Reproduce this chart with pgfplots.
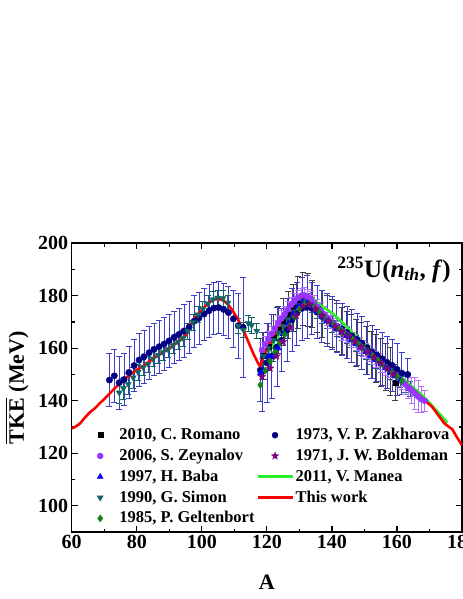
\documentclass[border=0pt]{standalone}
\usepackage{fontspec}
\setmainfont{Liberation Serif}
\usepackage{pgfplots}
\usepackage{pgfplotstable}
\pgfplotsset{compat=1.18}
\usetikzlibrary{plotmarks}

\definecolor{navyc}{RGB}{0,0,128}
\definecolor{errb}{RGB}{60,60,205}
\definecolor{tealc}{RGB}{20,100,100}
\definecolor{violetc}{RGB}{153,51,255}
\definecolor{babac}{RGB}{0,0,255}
\definecolor{geltc}{RGB}{20,130,20}
\definecolor{boldc}{RGB}{128,0,128}
\definecolor{maneac}{RGB}{40,240,40}
\definecolor{redc}{RGB}{255,0,0}

% filled five-pointed star
\pgfdeclareplotmark{fstar}{%
  \pgfpathmoveto{\pgfpointpolar{90}{1.3\pgfplotmarksize}}%
  \pgfpathlineto{\pgfpointpolar{126}{0.55\pgfplotmarksize}}%
  \pgfpathlineto{\pgfpointpolar{162}{1.3\pgfplotmarksize}}%
  \pgfpathlineto{\pgfpointpolar{198}{0.55\pgfplotmarksize}}%
  \pgfpathlineto{\pgfpointpolar{234}{1.3\pgfplotmarksize}}%
  \pgfpathlineto{\pgfpointpolar{270}{0.55\pgfplotmarksize}}%
  \pgfpathlineto{\pgfpointpolar{306}{1.3\pgfplotmarksize}}%
  \pgfpathlineto{\pgfpointpolar{342}{0.55\pgfplotmarksize}}%
  \pgfpathlineto{\pgfpointpolar{18}{1.3\pgfplotmarksize}}%
  \pgfpathlineto{\pgfpointpolar{54}{0.55\pgfplotmarksize}}%
  \pgfpathclose\pgfusepathqfillstroke}

\pgfplotsset{
  mleg/.style={legend image code/.code={%
      \pgfpathrectangle{\pgfpoint{0bp}{-3bp}}{\pgfpoint{35bp}{6bp}}%
      \pgfusepath{use as bounding box}%
      \draw[##1] plot coordinates {(17.5bp,0bp)};}},
  lleg/.style={legend image code/.code={%
      \draw[##1] (0bp,0bp) -- (35bp,0bp);}},
  ebar/.style={error bars/.cd, y dir=both, y explicit,
      error bar style={#1, line width=0.7bp},
      error mark options={#1, rotate=90, mark size=3bp, line width=0.7bp}},
}

% 1973, V. P. Zakharova
\pgfplotstableread{
A T E
71.6 147.9 10
73.1 149.5 10
74.6 146.9 10
76.1 148.1 10
77.6 150.8 10
79.2 153.4 10
80.7 155.5 10
82.2 156.8 10
83.8 158.3 10
85.3 159.6 10
86.9 160.6 10
88.4 161.6 10
89.9 162.8 10
91.5 164.2 10
93.0 165.3 10
94.5 166.6 10
96.1 168.0 10
97.6 170.3 10
99.1 171.5 10
100.7 173.0 10
102.2 174.3 10
103.7 175.3 10
105.2 175.5 10
106.7 174.8 10
108.2 173.6 10
109.7 171.2 11
111.2 168.6 12.5
112.7 168.0 19
118.0 151.7 12
118.5 151.0 15
120.0 154.5 15
121.5 157.0 16
123.1 160.5 15
124.6 163.1 12
126.2 167.0 12
127.7 170.8 12
129.2 173.3 12
130.8 175.2 12
132.3 175.6 12
133.8 175.2 10
135.4 173.8 10
136.9 172.1 10
138.5 170.8 10
140.0 169.6 10
141.5 168.4 10
143.1 167.2 10
144.6 166.0 10
146.1 164.7 10
147.7 163.4 10
149.2 162.0 10
150.8 160.2 10
152.3 158.6 10
153.8 157.4 10
155.4 156.0 10
156.9 154.6 10
158.5 153.5 10
160.0 152.0 10
161.5 150.5 8
163.3 150.0 6
}\zak

% 2010, C. Romano
\pgfplotstableread{
A T E
119.0 157.0 9
120.5 160.5 9
122.0 164.0 9
123.5 167.0 9
125.0 170.0 9
126.5 172.8 9
128.0 175.5 9
129.5 177.5 10
131.0 178.8 10
132.5 178.5 10
134.0 177.0 9
135.5 175.0 9
137.0 173.0 9
138.5 171.0 9
140.0 169.5 9
141.5 168.0 9
143.0 166.5 9
144.5 165.2 9
146.0 163.8 9
147.5 162.2 9
149.0 160.8 9
150.5 159.2 9
152.0 157.6 9
153.5 156.2 9
155.0 154.6 9
156.5 153.0 9
158.0 151.2 9
159.5 147.0 7
}\rom

% 1990, G. Simon
\pgfplotstableread{
A T E
74.6 143.1 4
75.9 144.7 4
77.4 146.3 4
78.9 148.8 4
80.4 150.9 3
82.0 152.7 3
83.5 154.0 3
85.0 156.0 3
86.6 157.4 3
88.1 158.5 3
89.6 159.6 3
91.1 161.2 3
92.7 162.5 3
94.2 163.9 3
95.7 166.5 3
97.3 170.0 3
98.8 172.8 3
100.3 175.0 3
101.9 177.0 3
103.4 178.6 3
104.9 179.2 3
106.5 179.0 3
108.0 177.3 3
111.2 168.5 3
112.8 167.0 3
114.3 169.5 3
115.3 168.8 3
116.9 166.6 3
119.0 157.0 3
120.5 160.0 3
122.0 163.0 3
123.5 166.0 3
125.0 168.5 3
126.5 171.0 3
128.0 174.0 3
129.5 176.5 3
131.0 178.0 3
132.5 178.0 3
134.0 176.5 3
135.5 174.5 3
137.0 172.5 3
138.5 170.5 3
140.0 169.0 3
141.5 167.5 3
143.0 166.0 3
144.5 164.8 3
146.0 163.2 3
147.5 161.8 3
149.0 160.2 3
150.5 158.6 3
152.0 157.0 3
153.5 155.5 3
155.0 154.0 3
156.5 152.5 3
158.0 151.0 3
159.5 149.5 3
161.0 148.0 3
162.5 146.3 3
164.0 144.5 3
}\sim

% 2006, S. Zeynalov
\pgfplotstableread{
A T E
118.5 159.3 3
119.5 161.5 3
120.5 163.5 3
121.5 165.5 3
122.5 167.5 3
123.5 169.5 3
124.5 171.3 3
125.5 173.0 3
126.5 174.8 3
127.5 176.5 3
128.5 178.0 3
129.5 179.2 3
130.5 180.0 3
131.5 180.2 3
132.5 179.6 3
133.5 178.6 3
134.5 177.2 3
135.5 175.8 3
136.5 174.4 3
137.5 173.0 3
138.5 171.8 3
139.5 170.6 3
140.5 169.4 3
141.5 168.3 3
142.5 167.2 3
143.5 166.2 3
144.5 165.2 3
145.5 164.2 3
146.5 163.2 3
147.5 162.2 3
148.5 161.2 3
149.5 160.1 3
150.5 159.0 3
151.5 158.0 3
152.5 157.0 3
153.5 155.9 3
154.5 154.9 3
155.5 153.9 3
156.5 152.8 3
157.5 151.8 3
158.5 150.7 3
159.5 149.7 3
160.5 148.6 3
161.5 147.4 3
162.5 146.3 4
163.5 145.1 4
164.5 144.0 5
165.5 142.8 6
166.5 141.6 6
167.5 140.6 5
168.5 140.0 4
}\zey

% 1997, H. Baba
\pgfplotstableread{
A T
118.0 150.5
119.0 151.5
120.5 157.0
122.0 157.0
123.5 160.0
125.0 165.5
126.5 169.5
128.0 173.0
129.5 175.8
131.0 177.3
132.5 177.3
134.0 176.0
135.5 174.0
137.0 172.0
138.5 170.3
140.0 168.8
141.5 167.5
143.0 166.2
144.5 164.8
146.0 163.3
147.5 161.8
149.0 160.3
150.5 158.7
152.0 157.2
153.5 155.6
155.0 154.1
156.5 152.5
158.0 151.0
159.5 149.4
161.0 147.8
}\bab

% 1985, P. Geltenbort
\pgfplotstableread{
A T
118.0 146.0
119.5 151.5
121.0 155.0
122.5 158.5
124.0 162.0
125.5 165.2
127.0 168.5
128.5 172.0
130.0 175.0
131.5 176.8
133.0 177.0
134.5 175.8
136.0 174.0
137.5 172.2
139.0 170.5
140.5 169.0
142.0 167.6
143.5 166.2
145.0 164.8
146.5 163.3
148.0 161.8
149.5 160.3
151.0 158.8
152.5 157.2
154.0 155.6
155.5 154.0
157.0 152.4
158.5 150.8
160.0 149.2
161.5 147.5
}\gel

% 1971, J. W. Boldeman
\pgfplotstableread{
A T
118.5 149.2
121.0 152.4
123.0 157.0
125.0 162.5
127.0 168.0
129.0 172.5
131.0 176.0
133.0 176.8
135.0 175.0
137.0 172.5
139.0 170.3
141.0 168.3
143.0 166.4
145.0 164.6
147.0 162.6
149.0 160.6
151.0 158.6
153.0 156.5
155.0 154.4
157.0 152.3
159.0 150.2
}\bol

% 2011, V. Manea
\pgfplotstableread{
A T
119.5 156.2
121.0 159.5
122.5 163.0
124.0 165.5
125.5 168.5
127.0 172.0
128.5 175.0
130.0 177.8
131.5 179.3
133.0 179.5
134.5 178.5
136.0 176.8
137.5 175.5
139.0 174.3
140.5 173.0
142.0 171.2
144.0 168.8
146.0 166.3
148.0 164.0
150.0 161.7
152.0 159.4
154.0 157.2
156.0 155.0
158.0 152.6
160.0 150.4
162.0 148.2
164.0 146.0
166.0 144.0
168.0 141.8
170.0 139.2
172.0 136.5
173.5 134.5
175.5 131.6
}\man

% This work
\pgfplotstableread{
A T
60.0 129.5
61.0 130.0
62.6 131.4
64.0 133.5
65.5 135.5
67.1 137.1
68.6 139.0
70.2 140.9
71.7 142.8
73.2 144.7
74.8 146.6
76.3 148.3
77.8 149.8
79.9 151.7
82.5 153.6
85.1 156.2
87.6 158.1
90.2 160.0
92.7 162.5
94.8 164.4
96.3 168.2
97.8 171.4
100.4 175.2
102.4 177.7
104.0 178.6
105.1 178.8
106.6 178.3
108.2 176.5
109.7 173.9
111.2 170.8
112.7 167.0
114.3 162.5
115.8 158.1
117.3 154.3
118.0 153.0
118.8 156.8
120.8 161.9
122.9 165.7
124.9 169.5
127.0 173.3
129.0 176.5
130.8 178.8
132.3 178.6
133.8 177.5
135.9 173.9
137.9 170.8
139.5 169.8
142.0 167.5
145.6 164.4
149.0 160.8
152.3 157.4
155.5 154.2
158.4 151.1
161.5 147.8
164.6 144.7
167.5 141.3
170.8 137.7
173.0 134.0
174.5 131.5
176.0 130.0
177.0 129.2
178.0 127.0
179.0 125.0
180.0 123.0
}\thiswork

\newsavebox\tkebox
\newcommand\tke{\sbox\tkebox{TKE}%
  \rlap{\rule[\dimexpr\ht\tkebox+2.6bp\relax]{\wd\tkebox}{1.4bp}}\usebox\tkebox}

\begin{document}
\begin{tikzpicture}
\path[use as bounding box] (-71.7bp,-67bp) rectangle (391.3bp,532bp);
\begin{axis}[
  at={(0,0)}, anchor=south west,
  scale only axis, width=390.3bp, height=288.7bp,
  xmin=60, xmax=180, ymin=90, ymax=200,
  xtick={60,80,...,180}, ytick={100,120,...,200},
  minor x tick num=1, minor y tick num=1,
  tick align=inside,
  major tick length=6bp, minor tick length=3.5bp,
  every tick/.style={black, line width=1.2bp},
  axis line style={line width=1.6bp},
  /pgf/number format/assume math mode=true,
  ticklabel style={font=\fontsize{20bp}{21bp}\selectfont\bfseries},
  xlabel={A},
  ylabel={\tke\ (MeV)},
  label style={font=\fontsize{22bp}{24bp}\selectfont\bfseries},
  xlabel style={at={(axis description cs:0.5,-0.173)}, anchor=center},
  ylabel style={at={(axis description cs:-0.14,0.5)}, anchor=center},
  legend columns=2,
  legend cell align=left,
  legend style={draw=none, fill=none, at={(0.0277,0.362)}, anchor=north west,
    inner sep=0pt, row sep=5.8bp, column sep=0bp,
    font=\fontsize{16.5bp}{18bp}\selectfont\bfseries,
    nodes={inner xsep=1.75bp, inner ysep=0pt, text height=12bp, text depth=3bp}},
]
\addplot[only marks, mark=square*, mark size=2.5bp, black, forget plot,
  ebar={black!75}] table[x=A, y=T, y error=E] {\rom};
\addplot[only marks, mark=*, mark size=3.2bp, navyc, forget plot,
  ebar={errb}] table[x=A, y=T, y error=E] {\zak};
\addplot[only marks, mark=triangle*, mark size=3.5bp, mark options={rotate=180}, tealc, forget plot,
  ebar={tealc}] table[x=A, y=T, y error=E] {\sim};
\addplot[only marks, mark=*, mark size=3bp, violetc, forget plot,
  ebar={violetc!70}] table[x=A, y=T, y error=E] {\zey};
\addplot[only marks, mark=triangle*, mark size=3.5bp, babac, forget plot] table[x=A, y=T] {\bab};
\addplot[only marks, mark=diamond*, mark size=3.5bp, geltc, forget plot] table[x=A, y=T] {\gel};
\addplot[only marks, mark=fstar, mark size=3bp, boldc, forget plot] table[x=A, y=T] {\bol};
\addplot[maneac, line width=2.6bp, forget plot] table[x=A, y=T] {\man};
\addplot[redc, line width=2.6bp, forget plot] table[x=A, y=T] {\thiswork};

\addlegendimage{mleg, only marks, mark=square*, mark size=2.5bp, black}
\addlegendentry{2010, C. Romano}
\addlegendimage{mleg, only marks, mark=*, mark size=3bp, navyc}
\addlegendentry{1973, V. P. Zakharova}
\addlegendimage{mleg, only marks, mark=*, mark size=3bp, violetc}
\addlegendentry{2006, S. Zeynalov}
\addlegendimage{mleg, only marks, mark=fstar, mark size=3bp, boldc}
\addlegendentry{1971, J. W. Boldeman}
\addlegendimage{mleg, only marks, mark=triangle*, mark size=3.5bp, babac}
\addlegendentry{1997, H. Baba}
\addlegendimage{lleg, maneac, line width=2.6bp}
\addlegendentry{2011, V. Manea}
\addlegendimage{mleg, only marks, mark=triangle*, mark size=3.5bp, mark options={rotate=180}, tealc}
\addlegendentry{1990, G. Simon}
\addlegendimage{lleg, redc, line width=2.6bp}
\addlegendentry{This work}
\addlegendimage{mleg, only marks, mark=diamond*, mark size=3.5bp, geltc}
\addlegendentry{1985, P. Geltenbort}

\node[anchor=north east, inner sep=0pt, font=\fontsize{25bp}{27bp}\selectfont\bfseries]
  at ([xshift=-11bp, yshift=-13bp]rel axis cs:1,1)
  {\textsuperscript{235}U(\textit{n}\textsubscript{\textit{th}}, \textit{f})};
\end{axis}
\end{tikzpicture}
\end{document}
